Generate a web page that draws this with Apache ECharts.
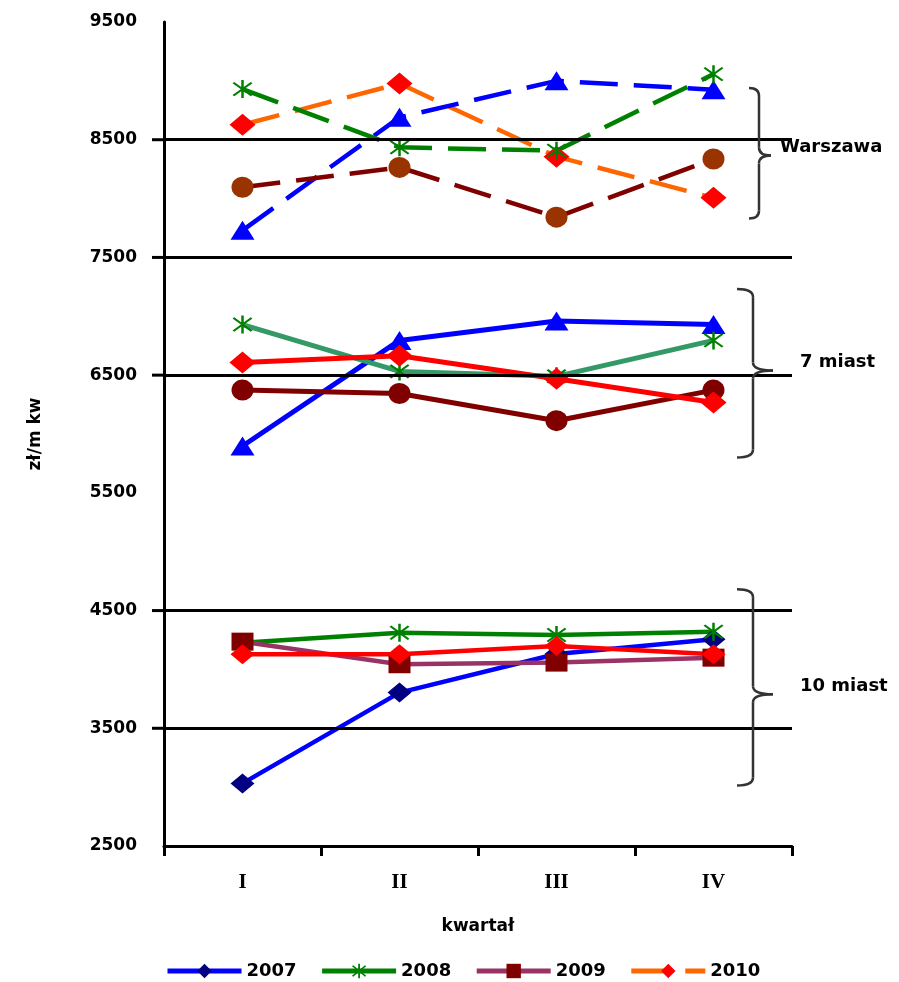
<!DOCTYPE html>
<html>
<head>
<meta charset="utf-8">
<script src="https://cdn.jsdelivr.net/npm/echarts@6/dist/echarts.min.js"></script>
<style>html,body{margin:0;padding:0;background:#fff;}#c{width:899px;height:982px;}</style>
</head>
<body>
<div id="c"></div>
<script>
// ---- data ----
const quarters = ['I', 'II', 'III', 'IV'];
const years = ['2007', '2008', '2009', '2010'];
const yTicks = [2500, 3500, 4500, 5500, 6500, 7500, 8500, 9500];
const refLines = [8500, 7500, 6500, 4500, 3500];

// Warszawa (dashed)
const warszawa2007 = [7730, 8690, 9000, 8925];
const warszawa2008 = [8930, 8435, 8407, 9057];
const warszawa2009 = [8096, 8265, 7842, 8336];
const warszawa2010 = [8627, 8977, 8356, 8006];
// 7 miast
const miast7_2007 = [5898, 6795, 6960, 6930];
const miast7_2008 = [6930, 6532, 6490, 6795];
const miast7_2009 = [6373, 6344, 6113, 6373];
const miast7_2010 = [6607, 6665, 6469, 6267];
// 10 miast
const miast10_2007 = [3032, 3803, 4131, 4256];
const miast10_2008 = [4227, 4312, 4292, 4320];
const miast10_2009 = [4236, 4044, 4058, 4100];
const miast10_2010 = [4129, 4129, 4199, 4129];

// group annotations
const groupLabels = ['Warszawa', '7 miast', '10 miast'];
const braceTop = [8940, 7231, 4682];
const braceMid = [8365, 6540, 3790];
const braceBottom = [7830, 5800, 3013];

// ---- styles ----
const asterisk = 'path://M9,0 H11 V20 H9 Z M2,3.4 L3.4,2 L18,16.6 L16.6,18 Z M16.6,2 L18,3.4 L3.4,18 L2,16.6 Z';
const dash = [38, 16];

function s(name, data, lineColor, lineType, width, symbol, symbolSize, markerColor) {
  return {
    name: name, type: 'line', data: data,
    symbol: symbol, symbolSize: symbolSize,
    showAllSymbol: true,
    lineStyle: { color: lineColor, width: width, type: lineType },
    itemStyle: { color: markerColor, borderWidth: 0 },
    emphasis: { disabled: true },
    animation: false, z: 3
  };
}

const series = [
  s('2007', miast10_2007, '#0000FF', 'solid', 4.5, 'diamond', [24, 20], '#000080'),
  s('2008', miast10_2008, '#008000', 'solid', 4.5, asterisk, [20, 18], '#008000'),
  s('2009', miast10_2009, '#993366', 'solid', 4.5, 'rect', [22, 18], '#800000'),
  s('2010', warszawa2010, '#FF6600', dash, 4.5, 'diamond', [26, 22], '#FF0000'),
  s('2010', miast10_2010, '#FF0000', 'solid', 4.5, 'diamond', [24, 20], '#FF0000'),

  s('2007', warszawa2007, '#0000FF', dash, 4.5, 'triangle', [24, 19], '#0000FF'),
  s('2008', warszawa2008, '#008000', dash, 4.5, asterisk, [20, 18], '#008000'),
  s('2009', warszawa2009, '#800000', dash, 4.5, 'circle', [22, 21], '#993300'),

  s('2007', miast7_2007, '#0000FF', 'solid', 5, 'triangle', [24, 19], '#0000FF'),
  s('2008', miast7_2008, '#339966', 'solid', 5, asterisk, [20, 18], '#008000'),
  s('2009', miast7_2009, '#800000', 'solid', 5, 'circle', [22, 21], '#800000'),
  s('2010', miast7_2010, '#FF0000', 'solid', 5, 'diamond', [26, 22], '#FF0000')
];

series[0].markLine = {
  silent: true, symbol: 'none', animation: false,
  label: { show: false },
  lineStyle: { color: '#000', width: 3, type: 'solid' },
  emphasis: { disabled: true },
  data: refLines.map(v => ({ yAxis: v }))
};

const chart = echarts.init(document.getElementById('c'));
chart.setOption({
  backgroundColor: '#fff',
  animation: false,
  grid: { left: 164, right: 107, top: 22, bottom: 136 },
  xAxis: {
    type: 'category', data: quarters, boundaryGap: true,
    name: 'kwartał', nameLocation: 'middle', nameGap: 72,
    nameTextStyle: { fontFamily: 'DejaVu Sans', fontWeight: 'bold', fontSize: 17, color: '#000' },
    axisLine: { lineStyle: { color: '#000', width: 3 } },
    axisTick: { show: true, length: 10, lineStyle: { color: '#000', width: 3 } },
    axisLabel: { margin: 26, fontFamily: 'Liberation Serif', fontWeight: 'bold', fontSize: 21, color: '#000' },
    splitLine: { show: false }
  },
  yAxis: {
    type: 'value', min: yTicks[0], max: yTicks[yTicks.length - 1], interval: 1000,
    name: 'zł/m kw', nameLocation: 'middle', nameGap: 120, nameRotate: 90,
    nameTextStyle: { fontFamily: 'DejaVu Sans', fontWeight: 'bold', fontSize: 17, color: '#000' },
    axisLine: { show: true, lineStyle: { color: '#000', width: 3 } },
    axisTick: { show: false },
    axisLabel: { margin: 27, fontFamily: 'DejaVu Sans', fontWeight: 'bold', fontSize: 17, color: '#000',
      formatter: v => String(v) },
    splitLine: { show: false }
  },
  legend: {
    data: years, left: 160, top: 957, itemGap: 23, itemWidth: 74, itemHeight: 18,
    selectedMode: false,
    lineStyle: { width: 5 },
    textStyle: { fontFamily: 'DejaVu Sans', fontWeight: 'bold', fontSize: 18, color: '#000' }
  },
  series: series
});

// annotations: braces, labels, y tick stubs
const gfx = [];
const yPix = v => chart.convertToPixel({ yAxisIndex: 0 }, v);
const axisX = chart.convertToPixel({ xAxisIndex: 0 }, 'I') - 78.5;
refLines.forEach(v => {
  const y = yPix(v);
  gfx.push({ type: 'line', shape: { x1: axisX - 12, y1: y, x2: axisX, y2: y }, style: { stroke: '#000', lineWidth: 3 }, silent: true });
});
const braceX = [759, 753, 753];
const tipX = [749, 737, 737];
const pointX = [771, 773, 773];
const labelX = [780, 800, 800];
const bst = { stroke: '#333', lineWidth: 2.5, fill: null };
for (let i = 0; i < 3; i++) {
  const y1 = yPix(braceTop[i]), ym = yPix(braceMid[i]), y2 = yPix(braceBottom[i]);
  const x0 = tipX[i], x1 = braceX[i], x2 = pointX[i], r = 8;
  gfx.push({ type: 'bezierCurve', shape: { x1: x0, y1: y1, cpx1: x1, cpy1: y1, x2: x1, y2: y1 + r }, style: bst, silent: true, z: 10 });
  gfx.push({ type: 'line', shape: { x1: x1, y1: y1 + r, x2: x1, y2: ym - r }, style: bst, silent: true, z: 10 });
  gfx.push({ type: 'bezierCurve', shape: { x1: x1, y1: ym - r, cpx1: x1, cpy1: ym, x2: x2, y2: ym }, style: bst, silent: true, z: 10 });
  gfx.push({ type: 'bezierCurve', shape: { x1: x2, y1: ym, cpx1: x1, cpy1: ym, x2: x1, y2: ym + r }, style: bst, silent: true, z: 10 });
  gfx.push({ type: 'line', shape: { x1: x1, y1: ym + r, x2: x1, y2: y2 - r }, style: bst, silent: true, z: 10 });
  gfx.push({ type: 'bezierCurve', shape: { x1: x1, y1: y2 - r, cpx1: x1, cpy1: y2, x2: x0, y2: y2 }, style: bst, silent: true, z: 10 });
  gfx.push({ type: 'text', x: labelX[i], y: ym - 8, style: { text: groupLabels[i], font: 'bold 18px "DejaVu Sans"', fill: '#000', verticalAlign: 'middle' }, silent: true, z: 10 });
}
chart.setOption({ graphic: gfx });
</script>
</body>
</html>
